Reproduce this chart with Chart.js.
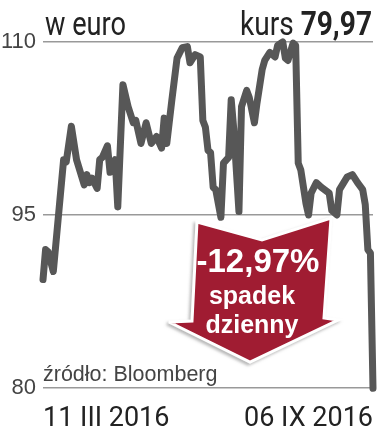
<!DOCTYPE html>
<html>
<head>
<meta charset="utf-8">
<script src="https://cdn.jsdelivr.net/npm/chart.js@4/dist/chart.umd.min.js"></script>
<style>
  body { margin: 0; background: #fff; }
  .wrap { position: relative; width: 391px; height: 433px; }
  #myChart { position: absolute; left: 0; top: 0; }
  .over { position: absolute; left: 0; top: 0; pointer-events: none; }
</style>
</head>
<body>
<div class="wrap">
  <canvas id="myChart" width="391" height="433"></canvas>
  <svg class="over" width="391" height="433">
    <defs>
      <filter id="sh" x="-20%" y="-20%" width="140%" height="140%">
        <feDropShadow dx="-2" dy="2" stdDeviation="1.5" flood-color="#999" flood-opacity="0.7"/>
      </filter>
    </defs>
    <text x="45" y="35" textLength="81" lengthAdjust="spacingAndGlyphs" font-family="Roboto, sans-serif" font-size="33" fill="#222">w euro</text>
    <text x="240" y="35" textLength="132" lengthAdjust="spacingAndGlyphs" font-family="Roboto, sans-serif" font-size="33" fill="#222">kurs <tspan font-weight="bold">79,97</tspan></text>
    <text x="43" y="381" font-family="'Liberation Sans', sans-serif" font-size="21.5" fill="#444">źródło: Bloomberg</text>
    <polygon points="197,222 262,240 331,218 324,318 338,320 250,362 169,322 192,321"
      fill="#a01a30" stroke="#fff" stroke-width="3" stroke-linejoin="miter" filter="url(#sh)"/>
    <g font-family="'Liberation Sans', sans-serif" font-weight="bold" fill="#fff" text-anchor="middle">
      <text x="258" y="272" font-size="33">-12,97%</text>
      <text x="252" y="304" font-size="25">spadek</text>
      <text x="252" y="333" font-size="25">dzienny</text>
    </g>
  </svg>
</div>
<script>
// sesje od 11 III 2016 (0) do 06 IX 2016 (128)
const days = [0, 1, 2, 4, 8, 9, 11, 13, 16, 17, 18, 19, 21, 22, 23, 25, 26, 28, 29, 31,
  33, 35, 36, 38, 40, 42, 44, 46, 47, 48, 50, 52, 54, 56, 57, 59, 61, 62, 63, 64,
  65, 66, 67, 69, 70, 72, 73, 74, 76, 77, 79, 80, 82, 83, 85, 86, 88, 90, 91, 93,
  94, 95, 97, 98, 99, 100, 102, 103, 104, 106, 108, 111, 112, 114, 115, 118, 120, 122, 124, 125,
  126, 127, 128];
const kurs = [89.4, 92.0, 91.8, 90.1, 99.8, 99.6, 102.7, 99.8, 97.6, 98.5, 97.8, 98.2, 97.3, 99.8, 100.0, 101.0, 98.7, 99.8, 95.7, 106.3,
  104.4, 103.0, 103.2, 101.2, 103.0, 101.2, 101.8, 100.8, 103.4, 101.2, 105.0, 108.6, 109.5, 109.6, 108.2, 108.9, 108.7, 103.2, 102.6, 100.6,
  100.4, 97.4, 97.2, 94.8, 99.5, 100.0, 105.0, 102.4, 95.3, 104.4, 105.8, 105.2, 103.0, 104.7, 107.6, 108.4, 109.1, 108.7, 109.7, 110.0,
  108.6, 108.4, 109.9, 109.7, 99.5, 98.9, 96.0, 95.0, 96.9, 97.8, 97.4, 96.9, 95.4, 95.0, 97.2, 98.3, 98.5, 97.8, 97.2, 95.9,
  92.0, 91.7, 79.97];
const xTicks = [0, 128];
const xLabels = ['11 III 2016', '06 IX 2016'];
const yTicks = [80, 95, 110];

const points = days.map((d, i) => ({ x: d, y: kurs[i] }));

const config = {
  type: 'line',
  data: {
    datasets: [{
      data: points,
      borderColor: '#575757',
      borderWidth: 7,
      borderCapStyle: 'round',
      borderJoinStyle: 'round',
      pointRadius: 0,
      tension: 0,
      clip: false
    }]
  },
  options: {
    responsive: false,
    animation: false,
    layout: { padding: { left: 0, right: 18, top: 42, bottom: 0 } },
    plugins: { legend: { display: false }, tooltip: { enabled: false } },
    scales: {
      x: {
        type: 'linear',
        min: 0,
        max: 128,
        afterBuildTicks: (axis) => { axis.ticks = xTicks.map(v => ({ value: v })); },
        afterFit: (axis) => { axis.height = 45; },
        grid: { display: false },
        border: { display: false },
        ticks: {
          align: 'inner',
          maxRotation: 0,
          padding: 7,
          color: '#222',
          font: { family: 'Roboto, sans-serif', size: 27 },
          callback: (v) => xLabels[xTicks.indexOf(v)]
        }
      },
      y: {
        min: 80,
        max: 110,
        afterBuildTicks: (axis) => { axis.ticks = yTicks.map(v => ({ value: v })); },
        afterFit: (axis) => { axis.width = 43; },
        grid: { color: '#999', lineWidth: 1.5, drawTicks: false },
        border: { display: false },
        ticks: {
          padding: 7,
          color: '#444',
          font: { family: "'Liberation Sans', sans-serif", size: 22 }
        }
      }
    }
  }
};

var myChart = new Chart(document.getElementById('myChart'), config);
</script>
</body>
</html>
